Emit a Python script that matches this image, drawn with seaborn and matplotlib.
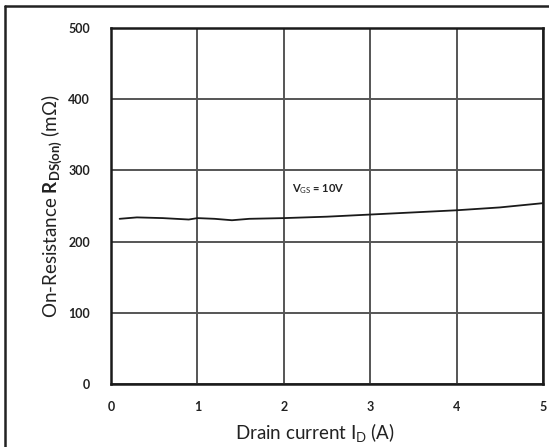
import matplotlib
matplotlib.use("Agg")
import matplotlib.pyplot as plt
import seaborn as sns
import pandas as pd
from matplotlib.lines import Line2D

# On-resistance vs drain current at VGS = 10 V
drain_current = [0.1, 0.3, 0.6, 0.9, 1.0, 1.2, 1.4, 1.6, 2.0, 2.5, 3.0, 3.5, 4.0, 4.5, 5.0]
rds_on = [232, 234, 233, 231, 233, 232, 230, 232, 233, 235, 238, 241, 244, 248, 254]
x_ticks = [0, 1, 2, 3, 4, 5]
y_ticks = [0, 100, 200, 300, 400, 500]

sns.set_style("white")
plt.rcParams["font.family"] = ["Lato", "DejaVu Sans"]
plt.rcParams["mathtext.fontset"] = "custom"
plt.rcParams["mathtext.rm"] = "Lato"
plt.rcParams["mathtext.bf"] = "Lato:bold"
plt.rcParams["mathtext.it"] = "Lato:italic"

df = pd.DataFrame({"Id": drain_current, "Rds": rds_on})

fig = plt.figure(figsize=(5.49, 4.47), dpi=100)
fig.patch.set_facecolor("white")
fig.patch.set_linewidth(0)
ax = fig.add_axes([111 / 549, 1 - 384 / 447, (543 - 111) / 549, (384 - 28) / 447])

sns.lineplot(data=df, x="Id", y="Rds", ax=ax, color="#1a1a1a", linewidth=1.3)

ax.set_xlim(0, 5)
ax.set_ylim(0, 500)
ax.set_xticks(x_ticks)
ax.set_yticks(y_ticks)
ax.set_xticklabels([str(t) for t in x_ticks], fontsize=9, fontweight="bold", color="#222222")
ax.set_yticklabels([str(t) for t in y_ticks], fontsize=9, fontweight="bold", color="#222222")
ax.tick_params(axis="both", length=0)
ax.tick_params(axis="y", pad=15)
ax.tick_params(axis="x", pad=12)

ax.grid(True, color="#555555", linewidth=1.4)
ax.set_axisbelow(True)
for s in ax.spines.values():
    s.set_color("#1a1a1a")
    s.set_linewidth(1.8)
    s.set_visible(True)

ax.set_xlabel(r"Drain current I$_{\mathrm{D}}$ (A)", fontsize=13.5, color="#222222")
ax.xaxis.set_label_coords(0.472, -0.105)
ax.set_ylabel(r"On-Resistance $\mathbf{R_{DS(on)}}$ (m$\Omega$)", fontsize=13.5, color="#222222", labelpad=3)

ax.text(2.1, 274, r"V$_{\mathrm{GS}}$ = 10V", fontsize=8, fontweight="bold", color="#222222",
        va="center", ha="left")

# outer panel frame (left and top edges)
x0, y0 = 5 / 549, 1 - 6 / 447
fig.add_artist(Line2D([x0, x0], [0, y0], transform=fig.transFigure, color="#222222", linewidth=1.8))
fig.add_artist(Line2D([x0, 1], [y0, y0], transform=fig.transFigure, color="#222222", linewidth=1.8))

fig.savefig("out.png", dpi=100)
